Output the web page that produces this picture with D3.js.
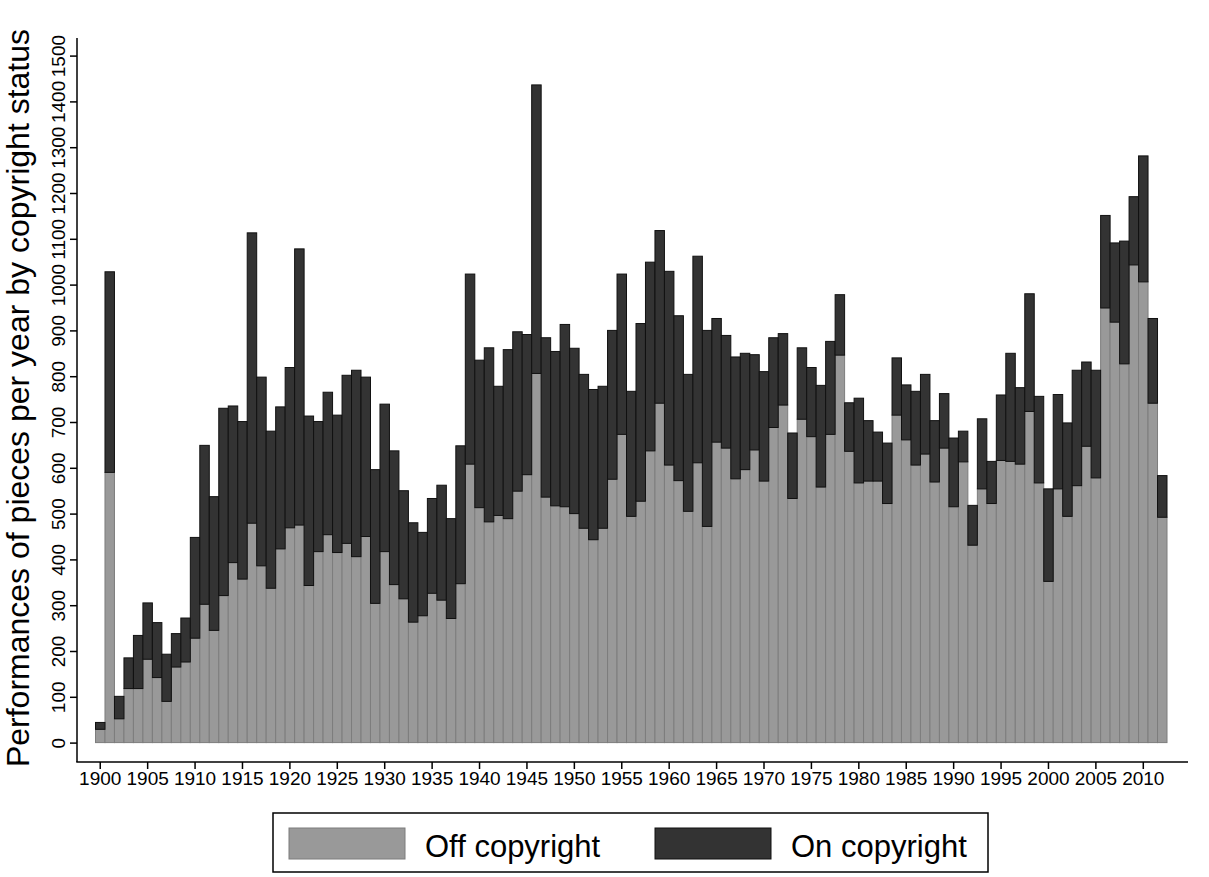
<!DOCTYPE html>
<html>
<head>
<meta charset="utf-8">
<script src="https://cdn.jsdelivr.net/npm/d3@7"></script>
<style>
  body { margin: 0; background: #fff; }
  text { font-family: "Liberation Sans", Arial, sans-serif; fill: #000; }
</style>
</head>
<body>
<div id="chart"></div>
<script>
// years on the x axis
const years = [
  1900,1901,1902,1903,1904,1905,1906,1907,1908,1909,
  1910,1911,1912,1913,1914,1915,1916,1917,1918,1919,
  1920,1921,1922,1923,1924,1925,1926,1927,1928,1929,
  1930,1931,1932,1933,1934,1935,1936,1937,1938,1939,
  1940,1941,1942,1943,1944,1945,1946,1947,1948,1949,
  1950,1951,1952,1953,1954,1955,1956,1957,1958,1959,
  1960,1961,1962,1963,1964,1965,1966,1967,1968,1969,
  1970,1971,1972,1973,1974,1975,1976,1977,1978,1979,
  1980,1981,1982,1983,1984,1985,1986,1987,1988,1989,
  1990,1991,1992,1993,1994,1995,1996,1997,1998,1999,
  2000,2001,2002,2003,2004,2005,2006,2007,2008,2009,
  2010,2011,2012
]
// performances of pieces that are off copyright
const offCopyright = [
  29,590,52,118,118,182,142,90,165,176,
  228,302,245,321,393,357,479,386,337,423,
  469,475,343,417,454,415,435,406,450,304,
  417,345,314,263,277,326,311,271,347,608,
  513,482,496,489,549,585,806,536,517,515,
  500,468,443,468,575,673,494,527,637,741,
  606,572,505,611,472,656,643,576,596,639,
  571,688,737,533,706,668,558,673,846,636,
  567,571,571,522,715,661,606,630,569,643,
  515,613,431,554,522,616,614,608,723,567,
  352,554,494,561,647,578,949,918,827,1043,
  1006,741,492
]
// performances of pieces still on copyright
const onCopyright = [
  15,438,49,67,116,123,120,103,73,96,
  220,347,292,409,342,344,634,412,343,310,
  350,603,370,284,311,300,367,407,348,292,
  322,292,236,217,182,207,251,218,301,415,
  322,380,282,369,348,306,630,348,337,398,
  361,336,328,310,325,350,273,388,412,377,
  423,360,299,451,428,270,246,266,254,208,
  239,196,156,143,156,151,222,203,132,106,
  185,132,107,132,125,120,161,174,134,119,
  150,67,87,153,92,143,236,167,257,189,
  202,206,204,252,184,235,202,173,268,149,
  275,185,91
]
const yTicks = [0,100,200,300,400,500,600,700,800,900,1000,1100,1200,1300,1400,1500]
const xTickYears = [1900,1905,1910,1915,1920,1925,1930,1935,1940,1945,1950,1955,1960,1965,1970,1975,1980,1985,1990,1995,2000,2005,2010]
const seriesNames = ["Off copyright", "On copyright"]
const seriesColors = ["#999999", "#333333"]
const seriesStroke = ["#7d7d7d", "#111111"]

const width = 1209, height = 877

const rows = years.map((y, i) => ({year: y, off: offCopyright[i], on: onCopyright[i]}))
const stacked = d3.stack().keys(["off", "on"])(rows)

const svg = d3.select("#chart").append("svg")
  .attr("width", width).attr("height", height)

const x = d3.scaleBand().domain(years).range([95.5, 1167]).padding(0)
const y = d3.scaleLinear().domain([0, 1500]).range([742.6, 55.6])

// bars
svg.selectAll("g.layer")
  .data(stacked)
  .enter()
  .append("g")
  .attr("class", "layer")
  .attr("fill", (d, i) => seriesColors[i])
  .attr("stroke", (d, i) => seriesStroke[i])
  .attr("stroke-width", 1)
  .selectAll("rect")
  .data(d => d)
  .enter()
  .append("rect")
  .attr("x", d => x(d.data.year))
  .attr("width", x.bandwidth())
  .attr("y", d => y(d[1]))
  .attr("height", d => y(d[0]) - y(d[1]))

// y axis
const yAxis = d3.axisLeft(y).tickValues(yTicks).tickFormat(d3.format("d")).tickSize(7)
const gy = svg.append("g").attr("transform", "translate(77,0)").call(yAxis)
gy.select(".domain").remove()
gy.selectAll(".tick line").attr("stroke", "#000").attr("stroke-width", 1.5)
gy.selectAll(".tick text")
  .attr("font-size", 19)
  .attr("text-anchor", "middle")
  .attr("transform", "rotate(-90)")
  .attr("x", 0).attr("y", -12).attr("dy", 0)
svg.append("line")
  .attr("x1", 77).attr("x2", 77).attr("y1", 38).attr("y2", 762)
  .attr("stroke", "#000").attr("stroke-width", 1.5)

// x axis
const xAxis = d3.axisBottom(x).tickValues(xTickYears).tickSize(7)
const gx = svg.append("g").attr("transform", "translate(0,762)").call(xAxis)
gx.select(".domain").remove()
gx.selectAll(".tick line").attr("stroke", "#000").attr("stroke-width", 1.5)
gx.selectAll(".tick text").attr("font-size", 19).attr("dy", "0.71em").attr("y", 10)
svg.append("line")
  .attr("x1", 76.25).attr("x2", 1188).attr("y1", 762).attr("y2", 762)
  .attr("stroke", "#000").attr("stroke-width", 1.5)

// y axis title
svg.append("text")
  .attr("transform", "translate(29,398) rotate(-90)")
  .attr("text-anchor", "middle")
  .attr("font-size", 32)
  .text("Performances of pieces per year by copyright status")

// legend
const legend = svg.append("g")
legend.append("rect")
  .attr("x", 273).attr("y", 813).attr("width", 715).attr("height", 59)
  .attr("fill", "#fff").attr("stroke", "#000").attr("stroke-width", 1.5)
const legendX = [289, 655]
seriesNames.forEach((name, i) => {
  legend.append("rect")
    .attr("x", legendX[i]).attr("y", 828).attr("width", 116).attr("height", 31)
    .attr("fill", seriesColors[i]).attr("stroke", seriesStroke[i]).attr("stroke-width", 1)
  legend.append("text")
    .attr("x", legendX[i] + 136).attr("y", 857)
    .attr("font-size", 31)
    .text(name)
})
</script>
</body>
</html>
